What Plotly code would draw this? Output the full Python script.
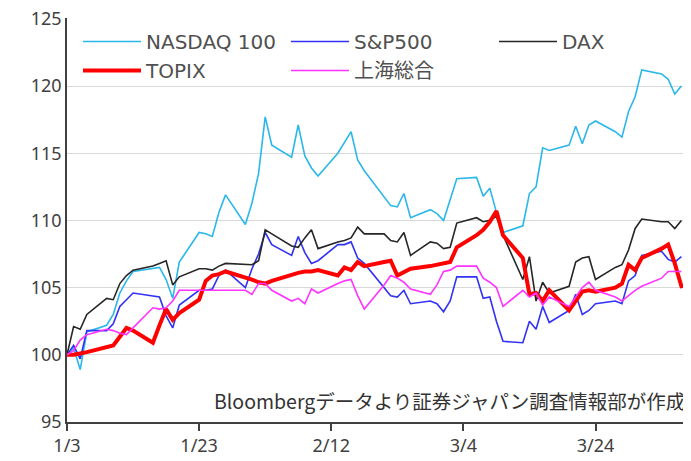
import plotly.graph_objects as go

# Trading-day axis (one row per week)
dates = [
    "2023-01-03", "2023-01-04", "2023-01-05", "2023-01-06",
    "2023-01-09", "2023-01-10", "2023-01-11", "2023-01-12", "2023-01-13",
    "2023-01-16", "2023-01-17", "2023-01-18", "2023-01-19", "2023-01-20",
    "2023-01-23", "2023-01-24", "2023-01-25", "2023-01-26", "2023-01-27",
    "2023-01-30", "2023-01-31", "2023-02-01", "2023-02-02", "2023-02-03",
    "2023-02-06", "2023-02-07", "2023-02-08", "2023-02-09", "2023-02-10",
    "2023-02-13", "2023-02-14", "2023-02-15", "2023-02-16", "2023-02-17",
    "2023-02-20", "2023-02-21", "2023-02-22", "2023-02-23", "2023-02-24",
    "2023-02-27", "2023-02-28", "2023-03-01", "2023-03-02", "2023-03-03",
    "2023-03-06", "2023-03-07", "2023-03-08", "2023-03-09", "2023-03-10",
    "2023-03-13", "2023-03-14", "2023-03-15", "2023-03-16", "2023-03-17",
    "2023-03-20", "2023-03-21", "2023-03-22", "2023-03-23", "2023-03-24",
    "2023-03-27", "2023-03-28", "2023-03-29", "2023-03-30", "2023-03-31",
    "2023-04-03", "2023-04-04", "2023-04-05", "2023-04-06", "2023-04-07",
]

nasdaq100 = [
    100.0, 100.5, 98.9, 101.7,
    102.2, 103.0, 104.6, 105.5, 106.2,
    None, 106.5, 105.6, 104.2, 106.9,
    109.1, 109.0, 108.8, 110.6, 111.9,
    109.7, 111.3, 113.5, 117.7, 115.6,
    114.7, 117.1, 114.8, 113.9, 113.3,
    115.0, 115.8, 116.6, 114.5, 113.7,
    None, 111.1, 111.0, 112.0, 110.2,
    110.8, 110.5, 110.0, 111.5, 113.1,
    113.2, 111.8, 112.4, 110.6, 109.1,
    109.6, 112.0, 112.5, 115.4, 115.2,
    115.6, 117.0, 115.7, 117.1, 117.4,
    116.6, 116.2, 118.1, 119.2, 121.2,
    120.9, 120.5, 119.4, 120.0, None,
]

sp500 = [
    100.0, 100.7, 99.7, 101.8,
    101.8, 102.3, 103.6, 104.1, 104.6,
    None, 104.3, 102.9, 102.0, 103.7,
    104.8, 104.8, 104.9, 105.9, 106.3,
    105.0, 106.4, 107.5, 109.1, 108.2,
    107.4, 108.8, 107.6, 106.8, 107.0,
    108.2, 108.2, 108.4, 107.2, 106.8,
    None, 104.4, 104.3, 104.8, 103.8,
    104.0, 103.8, 103.2, 104.0, 105.8,
    105.8, 104.2, 104.3, 102.5, 101.0,
    100.9, 102.5, 101.9, 103.6, 102.4,
    103.3, 104.5, 103.0, 103.3, 103.8,
    104.0, 103.8, 105.5, 105.9, 107.4,
    107.7, 107.1, 106.9, 107.3, None,
]

dax = [
    100.0, 102.1, 101.9, 103.0,
    104.2, 104.1, 105.3, 105.9, 106.3,
    106.6, 106.8, 107.0, 105.2, 105.8,
    106.4, 106.4, 106.3, 106.6, 106.8,
    106.7, 106.7, 107.0, 109.3, 109.0,
    108.1, 108.0, 108.7, 109.3, 107.9,
    108.4, 108.5, 108.7, 109.5, 109.0,
    109.0, 108.5, 108.4, 109.1, 107.4,
    108.4, 108.3, 107.9, 108.0, 109.8,
    110.2, 109.9, 110.0, 110.3, 108.9,
    105.6, 107.3, 104.0, 105.4, 104.6,
    105.1, 106.9, 107.2, 107.3, 105.6,
    106.5, 106.7, 107.8, 109.4, 110.1,
    109.9, 109.9, 109.4, 110.0, None,
]

topix = [
    100.0, 100.0, 100.1, 100.2,
    None, 100.7, 101.3, 102.0, 101.8,
    100.9, 102.2, 103.4, 102.6, 103.1,
    104.1, 105.5, 105.9, 106.0, 106.2,
    105.8, 105.6, 105.4, 105.3, 105.5,
    106.0, 106.1, 106.2, 106.2, 106.3,
    105.9, 106.5, 106.3, 106.9, 106.6,
    106.9, 107.0, 105.9, None, 106.4,
    106.6, 106.7, 106.8, 106.9, 108.0,
    108.9, 109.3, 109.9, 110.7, 108.9,
    107.2, 104.5, 104.6, 104.0, 104.8,
    103.3, None, 104.7, 104.8, 104.7,
    105.0, 105.3, 106.7, 106.3, 107.2,
    107.9, 108.2, 106.8, 105.1, 105.2,
]

shanghai = [
    100.0, 100.3, 101.1, 101.5,
    101.9, 101.8, 101.6, 101.5, 102.0,
    103.5, 103.4, 103.5, 104.0, 104.8,
    None, None, None, None, None,
    104.8, 104.5, 105.3, 105.3, 104.8,
    104.0, 104.2, 103.8, 104.9, 104.6,
    105.3, 105.5, 105.6, 104.4, 103.4,
    105.2, 105.9, 105.7, 105.4, 104.9,
    104.5, 105.2, 106.2, 106.3, 106.6,
    106.6, 105.7, 105.4, 105.0, 103.6,
    104.8, 104.3, 104.6, 103.7, 104.3,
    103.6, 104.3, 105.0, 105.4, 104.8,
    104.3, 104.0, 104.4, 104.8, 105.1,
    105.7, 106.2, None, 106.2, None,
]

series_names = ["NASDAQ 100", "S&P500", "DAX", "TOPIX", "上海総合"]
series_values = [nasdaq100, sp500, dax, topix, shanghai]
series_colors = ["#2AB7EA", "#3232F5", "#262626", "#FF0000", "#FF33FF"]
series_widths = [1.6, 1.6, 1.6, 4, 1.6]

x_tick_vals = ["2023-01-03", "2023-01-23", "2023-02-12", "2023-03-04", "2023-03-24"]
x_tick_text = ["1/3", "1/23", "2/12", "3/4", "3/24"]
y_tick_vals = [95, 100, 105, 110, 115, 120, 125]

source_note = "Bloombergデータより証券ジャパン調査情報部が作成"

FONT = "Noto Sans CJK JP, Noto Sans, sans-serif"
TICK_FONT = "Noto Sans, sans-serif"
LEGEND_FONT = "DejaVu Sans, Noto Sans CJK JP, sans-serif"

fig = go.Figure()
for name, vals, col, w in zip(series_names, series_values, series_colors, series_widths):
    fig.add_trace(go.Scatter(
        x=dates, y=vals, name=name, mode="lines", connectgaps=True,
        line=dict(color=col, width=w),
    ))

fig.update_layout(
    width=683, height=453,
    margin=dict(l=59, r=3, t=10, b=39, autoexpand=False),
    paper_bgcolor="white", plot_bgcolor="white",
    font=dict(family=FONT, color="#404040", size=18),
    showlegend=True,
    legend=dict(
        orientation="h", x=0.0177, y=0.99, xanchor="left", yanchor="top",
        bgcolor="rgba(255,255,255,0)",
        font=dict(family=LEGEND_FONT, size=20, color="#505050"),
        entrywidth=135, entrywidthmode="pixels", itemwidth=58,
        tracegroupgap=0,
    ),
    xaxis=dict(
        type="date", range=["2023-01-03", "2023-04-07"],
        tickmode="array", tickvals=x_tick_vals, ticktext=x_tick_text,
        showgrid=False, showline=True, linecolor="#404040", linewidth=1.5,
        ticks="outside", ticklen=7, tickcolor="#404040", tickwidth=1.5,
        tickfont=dict(family=TICK_FONT, size=18), zeroline=False,
        ticklabeloverflow="allow",
    ),
    yaxis=dict(
        range=[95, 125.06], tickmode="array", tickvals=y_tick_vals,
        showgrid=True, gridcolor="#D9D9D9", gridwidth=1.3,
        showline=True, linecolor="#404040", linewidth=1.5,
        ticks="", tickfont=dict(family=TICK_FONT, size=18), zeroline=False,
        ticklabeloverflow="allow",
    ),
    annotations=[dict(
        text=source_note, xref="paper", yref="paper", x=0.998, y=0.012,
        xanchor="right", yanchor="bottom", showarrow=False,
        font=dict(size=19.5, color="#333333"),
    )],
)

fig.write_html("out.html")
